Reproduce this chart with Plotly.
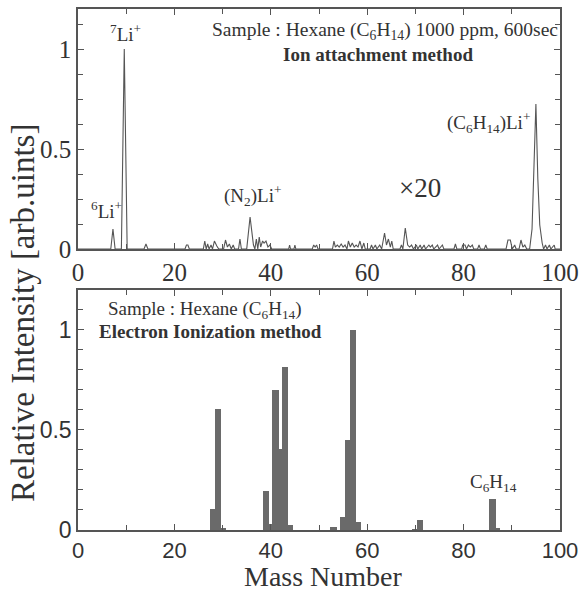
import plotly.graph_objects as go

# ---------------- data ----------------
# Ion attachment spectrum (profile, mass vs relative intensity)
ia_mass = [0, 6.8, 7.25, 7.7, 9.0, 9.6, 10.2, 13.7, 14.1, 14.5,
           22.2, 22.5, 22.8, 23.1,
           26.0, 26.3, 26.6, 26.9, 27.2, 27.6, 27.9, 28.3, 28.8, 29.2,
           30.2, 30.6, 31.0, 31.4, 31.8, 32.2, 32.5, 33.3, 33.6, 33.9,
           35.0, 35.7, 36.4, 36.7, 37.0, 37.3, 37.6, 37.9, 38.3, 38.6, 39.0, 39.4, 39.8, 40.2,
           43.7, 43.9, 44.1, 44.8, 45.0, 45.2,
           48.6, 48.9, 49.2, 49.5, 49.8,
           52.8, 53.1, 53.4, 53.8, 54.2, 54.6, 55.0, 55.4, 55.8, 56.1, 56.5, 56.9, 57.3, 57.7,
           58.1, 58.5, 58.9, 59.3, 59.6,
           60.6, 60.9, 61.2, 61.7, 62.0, 62.6, 63.0, 63.6, 64.0, 64.4, 64.8, 65.1, 65.4,
           66.8, 67.1, 67.4, 67.9, 68.4, 68.8, 69.2, 69.6, 70.2, 70.5, 71.0, 71.3, 71.8, 72.1,
           72.8, 73.1, 73.5, 73.8, 74.6, 74.9, 75.6, 75.9,
           78.0, 78.3, 78.6,
           79.6, 79.8, 80.3, 80.6, 81.0, 81.4, 81.8, 82.1,
           82.9, 83.2, 83.5, 84.3, 84.6, 84.9,
           88.8, 89.2, 89.7, 90.1, 90.6, 90.9, 91.5, 91.9, 92.3, 92.7, 93.1,
           93.7, 94.2, 94.6, 95.0, 95.4, 95.8, 96.3, 96.6,
           97.0, 97.3, 97.8, 98.1, 98.8, 99.0, 100]
ia_int = [0, 0, 0.10, 0, 0, 1.0, 0, 0, 0.025, 0,
          0, 0.02, 0.02, 0,
          0, 0.04, 0, 0.025, 0, 0.02, 0, 0.04, 0.015, 0,
          0, 0.045, 0.01, 0.025, 0, 0.02, 0, 0, 0.05, 0,
          0, 0.16, 0.02, 0, 0.05, 0, 0.06, 0.01, 0.04, 0.03, 0.04, 0.01, 0.02, 0,
          0, 0.02, 0, 0, 0.02, 0,
          0, 0.02, 0.01, 0.02, 0,
          0, 0.04, 0.01, 0.02, 0.01, 0.025, 0.01, 0.02, 0, 0.04, 0.01, 0.03, 0.01, 0.02,
          0.01, 0.04, 0, 0.03, 0,
          0, 0.02, 0, 0.02, 0, 0.02, 0, 0.08, 0.02, 0.05, 0.01, 0.04, 0,
          0, 0.02, 0, 0.105, 0.02, 0.01, 0.02, 0, 0.02, 0, 0.02, 0, 0.02, 0,
          0.02, 0.01, 0.02, 0, 0.02, 0, 0.02, 0,
          0, 0.025, 0,
          0, 0.02, 0.02, 0, 0.02, 0.01, 0.02, 0,
          0, 0.02, 0, 0, 0.02, 0,
          0, 0.045, 0.045, 0, 0.02, 0, 0, 0.045, 0.01, 0.02, 0,
          0, 0.1, 0.4, 0.725, 0.35, 0.12, 0.03, 0,
          0.02, 0, 0.02, 0, 0.02, 0, 0]

# Electron ionization spectrum (bars)
ei_mass = [28, 29, 30, 39, 40, 41, 42, 43, 44, 53, 55, 56, 57, 58, 70, 71, 86, 87]
ei_int = [0.104, 0.605, 0.01, 0.197, 0.03, 0.70, 0.405, 0.816, 0.023, 0.013,
          0.064, 0.45, 1.0, 0.04, 0.005, 0.05, 0.154, 0.01]

x_ticks = [0, 20, 40, 60, 80, 100]

SERIF = "Times New Roman"
SANS = "Arial"
TXT = "#333333"
AX = "#555555"

fig = go.Figure()
fig.add_trace(go.Scatter(x=ia_mass, y=ia_int, mode="lines",
                         line=dict(color="#555555", width=1.1),
                         xaxis="x", yaxis="y", showlegend=False, hoverinfo="skip"))
fig.add_trace(go.Bar(x=ei_mass, y=ei_int, width=1.3,
                     marker=dict(color="#6a6a6a", line=dict(width=0)),
                     xaxis="x2", yaxis="y2", showlegend=False))

common_axis = dict(showline=True, linecolor=AX, linewidth=1.5, mirror="allticks",
                   ticks="inside", ticklen=6, tickwidth=1.2, tickcolor=AX,
                   showgrid=False, zeroline=False, automargin=False)

fig.update_layout(
    width=580, height=592,
    margin=dict(l=78, r=20, t=9, b=62, autoexpand=False),
    paper_bgcolor="white", plot_bgcolor="white",
    bargap=0,
    xaxis=dict(domain=[0, 1], anchor="y", range=[0, 100], tickvals=x_ticks,
               minor=dict(dtick=10, tick0=0, ticks="inside", ticklen=5, tickcolor=AX),
               tickfont=dict(family=SERIF, size=25, color=TXT), **common_axis),
    yaxis=dict(domain=[0.5393, 1], anchor="x", range=[0, 1.2], tickvals=[0, 0.5, 1],
               minor=dict(dtick=0.125, tick0=0, ticks="inside", ticklen=5, tickcolor=AX),
               tickfont=dict(family=SERIF, size=25, color=TXT), **common_axis),
    xaxis2=dict(domain=[0, 1], anchor="y2", range=[0, 100], tickvals=x_ticks,
                minor=dict(dtick=10, tick0=0, ticks="inside", ticklen=5, tickcolor=AX),
                tickfont=dict(family=SANS, size=22, color=TXT), **common_axis),
    yaxis2=dict(domain=[0, 0.4607], anchor="x2", range=[0, 1.2], tickvals=[0, 0.5, 1],
                minor=dict(dtick=0.1, tick0=0, ticks="inside", ticklen=5, tickcolor=AX),
                tickfont=dict(family=SANS, size=23, color=TXT), **common_axis),
)

def ann(text, x, y, xref, yref, size=19, family=SERIF, xanchor="center", **kw):
    fig.add_annotation(text=text, x=x, y=y, xref=xref, yref=yref, showarrow=False,
                       xanchor=xanchor, yanchor="middle",
                       font=dict(family=family, size=size, color=TXT), **kw)

# top panel labels
ann("Sample : Hexane (C<sub>6</sub>H<sub>14</sub>) 1000 ppm, 600sec", 100, 1.09, "x", "y", xanchor="right", size=19.5)
ann("<b>Ion attachment method</b>", 62.2, 0.975, "x", "y")
ann("<sup>7</sup>Li<sup>+</sup>", 9.75, 1.08, "x", "y")
ann("<sup>6</sup>Li<sup>+</sup>", 6.0, 0.195, "x", "y")
ann("(N<sub>2</sub>)Li<sup>+</sup>", 36.1, 0.27, "x", "y")
ann("×20", 71.0, 0.305, "x", "y", size=27)
ann("(C<sub>6</sub>H<sub>14</sub>)Li<sup>+</sup>", 85.1, 0.635, "x", "y")

# bottom panel labels
ann("Sample : Hexane (C<sub>6</sub>H<sub>14</sub>)", 26.3, 1.10, "x2", "y2")
ann("<b>Electron Ionization method</b>", 27.4, 0.99, "x2", "y2")
ann("C<sub>6</sub>H<sub>14</sub>", 86.1, 0.236, "x2", "y2")

# axis titles
ann("Relative Intensity [arb.uints]", -0.114, 0.4165, "paper", "paper", size=33, textangle=-90)
ann("Mass Number", 0.51, -0.09, "paper", "paper", size=28)

fig.write_html("out.html", config={"displayModeBar": False},
               post_script="document.body.style.margin='0';document.body.style.padding='0';")
